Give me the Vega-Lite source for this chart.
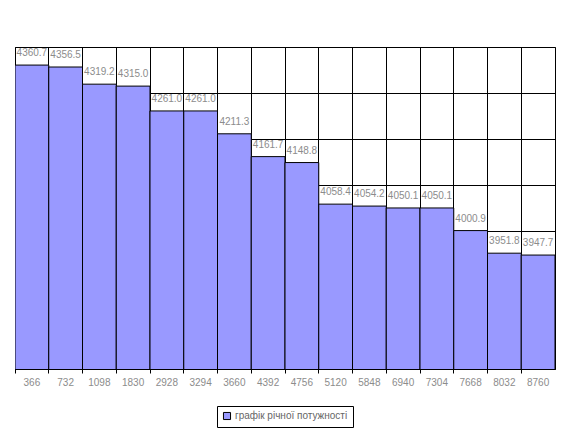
{
  "$schema": "https://vega.github.io/schema/vega-lite/v6.json",
  "autosize": "none",
  "width": 540,
  "height": 322,
  "padding": {"left": 15, "top": 47, "right": 13, "bottom": 65},
  "background": "white",
  "config": {
    "view": {"stroke": "black", "strokeWidth": 1},
    "font": "Liberation Sans"
  },
  "data": {
    "values": [
      {"hours": "366", "power": 4360.7, "series": "графік річної потужності"},
      {"hours": "732", "power": 4356.5, "series": "графік річної потужності"},
      {"hours": "1098", "power": 4319.2, "series": "графік річної потужності"},
      {"hours": "1830", "power": 4315.0, "series": "графік річної потужності"},
      {"hours": "2928", "power": 4261.0, "series": "графік річної потужності"},
      {"hours": "3294", "power": 4261.0, "series": "графік річної потужності"},
      {"hours": "3660", "power": 4211.3, "series": "графік річної потужності"},
      {"hours": "4392", "power": 4161.7, "series": "графік річної потужності"},
      {"hours": "4756", "power": 4148.8, "series": "графік річної потужності"},
      {"hours": "5120", "power": 4058.4, "series": "графік річної потужності"},
      {"hours": "5848", "power": 4054.2, "series": "графік річної потужності"},
      {"hours": "6940", "power": 4050.1, "series": "графік річної потужності"},
      {"hours": "7304", "power": 4050.1, "series": "графік річної потужності"},
      {"hours": "7668", "power": 4000.9, "series": "графік річної потужності"},
      {"hours": "8032", "power": 3951.8, "series": "графік річної потужності"},
      {"hours": "8760", "power": 3947.7, "series": "графік річної потужності"}
    ]
  },
  "encoding": {
    "x": {
      "field": "hours",
      "type": "ordinal",
      "sort": null,
      "scale": {"paddingInner": 0, "paddingOuter": 0},
      "axis": {
        "title": null,
        "labelAngle": 0,
        "labelAlign": "center",
        "bandPosition": 0,
        "labelOffset": 0,
        "grid": true,
        "gridColor": "black",
        "gridOpacity": 1,
        "domainColor": "black",
        "tickColor": "black",
        "tickSize": 4,
        "labelPadding": 4,
        "labelFontSize": 10,
        "labelColor": "#8c8c8c",
        "labelFont": "Liberation Sans"
      }
    },
    "y": {
      "field": "power",
      "type": "quantitative",
      "scale": {"domain": [3700, 4400], "nice": false, "zero": false},
      "axis": {
        "title": null,
        "labels": false,
        "ticks": false,
        "domain": false,
        "values": [3700, 3800, 3900, 4000, 4100, 4200, 4300, 4400],
        "grid": true,
        "gridColor": "black",
        "gridOpacity": 1
      }
    }
  },
  "layer": [
    {
      "mark": {"type": "bar", "stroke": "black", "strokeWidth": 1, "clip": true},
      "encoding": {
        "color": {
          "field": "series",
          "type": "nominal",
          "scale": {"range": ["#9999FF"]},
          "legend": {
            "title": null,
            "orient": "none",
            "legendX": 202,
            "legendY": 359,
            "symbolType": "square",
            "symbolSize": 50,
            "symbolStrokeColor": "black",
            "symbolStrokeWidth": 1,
            "symbolOpacity": 1,
            "labelFontSize": 10,
            "labelColor": "#666666",
            "labelFont": "Liberation Sans",
            "strokeColor": "black",
            "padding": 5,
            "labelOffset": 3
          }
        }
      }
    },
    {
      "mark": {
        "type": "text",
        "align": "center",
        "baseline": "alphabetic",
        "dy": -9,
        "fontSize": 10,
        "color": "#8c8c8c",
        "font": "Liberation Sans"
      },
      "encoding": {
        "text": {"field": "power", "type": "quantitative", "format": ".1f"}
      }
    }
  ]
}
